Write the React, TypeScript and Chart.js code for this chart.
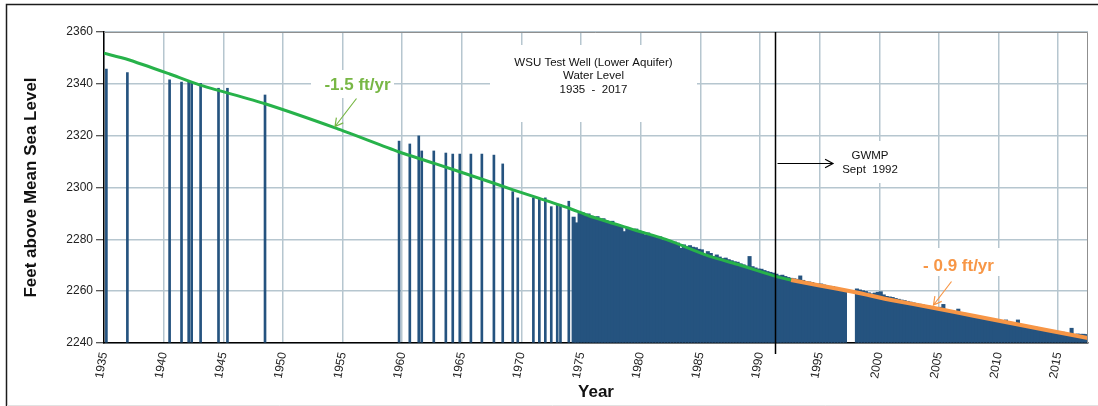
import { useEffect, useRef } from 'react';
import { Chart, registerables } from 'chart.js';

Chart.register(...registerables);

// ---------- data ----------
const sparseYears = [
  1935.2, 1936.96, 1940.5, 1941.5, 1942.1, 1942.35, 1943.1, 1944.6, 1945.35, 1948.5,
  1959.74, 1960.64, 1961.39, 1961.64, 1962.65, 1963.66, 1964.24, 1964.83, 1965.76, 1966.68,
  1967.69, 1968.43, 1969.27, 1969.69, 1971.0, 1971.5, 1972.0, 1972.5, 1973.0, 1973.27, 1973.97,
];
const sparseLevels = [
  2345.7, 2344.3, 2341.5, 2340.7, 2341.2, 2340.4, 2340.2, 2338.3, 2338.3, 2335.7,
  2317.9, 2316.8, 2319.9, 2314.1, 2314.1, 2313.3, 2312.9, 2312.9, 2312.9, 2312.9,
  2312.5, 2309.1, 2298.4, 2296.0, 2296.0, 2295.7, 2296.0, 2292.6, 2293.4, 2293.4, 2294.7,
];

// quarterly readings (Q1..Q4) for the dense record
const denseYears = [
  1974, 1975, 1976, 1977, 1978, 1979, 1980, 1981, 1982, 1983, 1984,
  1985, 1986, 1987, 1988, 1989, 1990, 1991, 1992, 1993, 1994, 1995,
  1996, 1997, 1998, 1999, 2000, 2001, 2002, 2003, 2004, 2005, 2006,
  2007, 2008, 2009, 2010, 2011, 2012, 2013, 2014, 2015, 2016, 2017,
];
const denseLevels: (number | null)[][] = [
  [null, 2288.6, 2286.4, 2290.0],
  [2290.3, 2289.5, 2289.8, 2289.0],
  [2288.5, 2288.8, 2287.6, 2288.0],
  [2287.2, 2286.5, 2287.0, 2285.8],
  [2285.6, 2285.0, 2283.0, 2284.6],
  [2284.2, 2283.5, 2284.0, 2283.3],
  [2283.0, 2281.8, 2282.5, 2281.6],
  [2281.2, 2280.5, 2281.0, 2279.8],
  [2279.9, 2279.4, 2278.7, 2279.0],
  [2278.6, 2276.6, 2277.9, 2277.2],
  [2277.6, 2277.0, 2276.8, 2276.2],
  [2276.0, 2273.7, 2275.3, 2274.6],
  [2273.4, 2274.0, 2273.2, 2272.6],
  [2272.8, 2272.2, 2271.8, 2271.4],
  [2271.2, 2270.6, 2270.2, 2269.7],
  [2273.4, 2269.5, 2269.0, 2268.6],
  [2268.5, 2268.0, 2267.6, 2267.3],
  [2267.0, 2266.6, 2266.0, 2266.2],
  [2265.7, 2265.3, 2265.0, 2264.8],
  [2264.6, 2265.9, 2264.2, 2263.8],
  [2263.6, 2263.4, 2263.0, 2262.8],
  [2262.8, 2262.4, 2262.0, 2261.9],
  [2261.8, 2261.5, 2261.0, 2260.8],
  [2260.4, null, null, null],
  [2260.9, 2260.5, 2260.2, 2259.9],
  [2259.4, 2259.0, 2259.3, 2259.6],
  [2259.8, 2258.6, 2258.0, 2257.8],
  [2257.6, 2257.2, 2256.9, 2256.6],
  [2256.4, 2256.1, 2255.8, 2255.5],
  [2255.3, 2255.0, 2254.8, 2254.5],
  [2254.3, 2254.0, 2253.7, 2253.5],
  [2253.8, 2254.9, 2253.0, 2252.6],
  [2252.4, 2252.1, 2253.1, 2251.8],
  [2251.5, 2251.2, 2250.9, 2250.6],
  [2250.3, 2250.1, 2249.8, 2249.5],
  [2249.4, 2249.1, 2248.8, 2248.6],
  [2248.4, 2248.2, 2248.9, 2247.9],
  [2247.7, 2247.4, 2248.9, 2246.8],
  [2247.0, 2246.8, 2246.5, 2246.3],
  [2246.1, 2245.8, 2245.5, 2245.2],
  [2245.0, 2244.8, 2244.6, 2244.4],
  [2244.4, 2244.2, 2243.6, 2243.4],
  [2245.7, 2243.2, 2243.5, 2243.4],
  [2243.4, 2243.3, null, null],
];

const greenTrendYears = [
  1935, 1937, 1940.5, 1943, 1948.5, 1954.5, 1959.7, 1962.7, 1966.7, 1969.3,
  1971.5, 1974, 1975.7, 1979.5, 1982.4, 1985.8, 1988.3, 1991.4, 1992.6,
];
const greenTrendLevels = [
  2351.8, 2349.4, 2343.8, 2339.6, 2332.3, 2322.8, 2313.8, 2309.3, 2303.2, 2299.1,
  2295.8, 2292.0, 2289.0, 2283.6, 2279.5, 2273.4, 2270.1, 2265.6, 2264.3,
];
const orangeTrendYears = [1992.6, 1995, 1998, 2001, 2004.5, 2008, 2011, 2014, 2017.5];
const orangeTrendLevels = [2264.3, 2262.2, 2259.6, 2256.6, 2253.6, 2250.4, 2247.7, 2245.0, 2241.9];

const xTickYears = [1935, 1940, 1945, 1950, 1955, 1960, 1965, 1970, 1975, 1980, 1985, 1990, 1995, 2000, 2005, 2010, 2015];
const yTickLevels = [2240, 2260, 2280, 2300, 2320, 2340, 2360];
const gwmpYear = 1991.3;

const titleLines = ['WSU Test Well (Lower Aquifer)', 'Water Level', '1935  -  2017'];
const gwmpLines = ['GWMP', 'Sept  1992'];
const greenRateLabel = '-1.5 ft/yr';
const orangeRateLabel = '- 0.9 ft/yr';

// ---------- styles ----------
const FONT = "'Liberation Sans', Arial, sans-serif";
const BAR = '#25537f';
const GREEN = '#27b24a';
const GREEN_TEXT = '#78b745';
const ORANGE = '#f79646';
const GRID = '#b6c6cf';

function arrow(ctx: CanvasRenderingContext2D, x1: number, y1: number, x2: number, y2: number, color: string, head = 8) {
  ctx.save();
  ctx.strokeStyle = color;
  ctx.lineWidth = 1.2;
  ctx.beginPath();
  ctx.moveTo(x1, y1);
  ctx.lineTo(x2, y2);
  const a = Math.atan2(y2 - y1, x2 - x1);
  ctx.moveTo(x2 - head * Math.cos(a - 0.5), y2 - head * Math.sin(a - 0.5));
  ctx.lineTo(x2, y2);
  ctx.lineTo(x2 - head * Math.cos(a + 0.5), y2 - head * Math.sin(a + 0.5));
  ctx.stroke();
  ctx.restore();
}

const decor = {
  id: 'decor',
  beforeDraw(chart: any) {
    const ctx = chart.ctx as CanvasRenderingContext2D;
    ctx.save();
    ctx.fillStyle = '#fff';
    ctx.fillRect(0, 0, chart.width, chart.height);
    ctx.strokeStyle = '#1c1c1c';
    ctx.lineWidth = 1.5;
    ctx.beginPath();
    ctx.moveTo(6.5, 406);
    ctx.lineTo(6.5, 4.5);
    ctx.lineTo(1098, 4.5);
    ctx.stroke();
    ctx.strokeStyle = '#e2e2e2';
    ctx.lineWidth = 1;
    ctx.beginPath();
    ctx.moveTo(7, 405.5);
    ctx.lineTo(1098, 405.5);
    ctx.stroke();
    ctx.restore();
  },
  afterDatasetsDraw(chart: any) {
    const ctx = chart.ctx as CanvasRenderingContext2D;
    const { left, right, top, bottom } = chart.chartArea;
    const xs = chart.scales.x;
    ctx.save();
    // plot area border (top/right)
    ctx.strokeStyle = '#8f8f8f';
    ctx.lineWidth = 1;
    ctx.beginPath();
    ctx.moveTo(left, top + 0.5);
    ctx.lineTo(right - 0.5, top + 0.5);
    ctx.lineTo(right - 0.5, bottom);
    ctx.stroke();

    // GWMP vertical line
    const gx = xs.getPixelForValue(gwmpYear);
    ctx.strokeStyle = '#000';
    ctx.lineWidth = 1.5;
    ctx.beginPath();
    ctx.moveTo(gx, top);
    ctx.lineTo(gx, bottom + 11);
    ctx.stroke();

    // title box
    ctx.fillStyle = '#fff';
    ctx.fillRect(490, 45, 207, 77);
    ctx.fillStyle = '#111';
    ctx.font = `11.5px ${FONT}`;
    ctx.textAlign = 'center';
    ctx.textBaseline = 'middle';
    titleLines.forEach((t, i) => ctx.fillText(t, 593.5, 62.5 + i * 13.7));

    // GWMP box
    ctx.fillStyle = '#fff';
    ctx.fillRect(838, 141, 66, 42);
    ctx.fillStyle = '#111';
    gwmpLines.forEach((t, i) => ctx.fillText(t, 870, 155.5 + i * 14));
    arrow(ctx, gx + 2, 163.5, 833, 163.5, '#000', 9);

    // green rate label
    ctx.fillStyle = '#fff';
    ctx.fillRect(311, 70, 83, 28);
    ctx.fillStyle = GREEN_TEXT;
    ctx.font = `bold 17px ${FONT}`;
    ctx.fillText(greenRateLabel, 357.5, 85);
    arrow(ctx, 356.5, 98.5, 335, 126.5, GREEN_TEXT, 9);

    // orange rate label
    ctx.fillStyle = '#fff';
    ctx.fillRect(913, 248, 90, 28);
    ctx.fillStyle = ORANGE;
    ctx.fillText(orangeRateLabel, 958.5, 266.5);
    arrow(ctx, 951.5, 281.5, 933.5, 305, ORANGE, 9);
    ctx.restore();
  },
};

export default function App() {
  const ref = useRef<HTMLCanvasElement>(null);

  useEffect(() => {
    if (!ref.current) return;
    Chart.defaults.font.family = FONT;

    const sparse = sparseYears.map((x, i) => ({ x, y: sparseLevels[i] }));
    const dense: { x: number; y: number }[] = [];
    denseYears.forEach((yr, r) => {
      denseLevels[r].forEach((v, q) => {
        if (v !== null) dense.push({ x: yr + 0.125 + q * 0.25, y: v });
      });
    });
    const green = greenTrendYears.map((x, i) => ({ x, y: greenTrendLevels[i] }));
    const orange = orangeTrendYears.map((x, i) => ({ x, y: orangeTrendLevels[i] }));

    const chart = new Chart(ref.current, {
      type: 'bar',
      data: {
        datasets: [
          { type: 'line', data: green, borderColor: GREEN, borderWidth: 3, pointRadius: 0, tension: 0.2, order: 0 } as any,
          { type: 'line', data: orange, borderColor: ORANGE, borderWidth: 4, pointRadius: 0, tension: 0.2, order: 0 } as any,
          { type: 'bar', data: sparse, backgroundColor: BAR, barThickness: 2, grouped: false, order: 1, base: 2240 } as any,
          { type: 'bar', data: dense, backgroundColor: BAR, barThickness: 3.4, grouped: false, order: 1, base: 2240 } as any,
        ],
      },
      options: {
        animation: false,
        responsive: false,
        devicePixelRatio: 1,
        layout: { padding: { left: 0, top: 32, right: 10, bottom: 0 } },
        plugins: { legend: { display: false }, tooltip: { enabled: false } },
        scales: {
          x: {
            type: 'linear',
            min: 1935,
            max: 2017.5,
            offset: false,
            afterFit: (s: any) => { s.height = 63; },
            afterBuildTicks: (s: any) => { s.ticks = xTickYears.map((v) => ({ value: v })); },
            ticks: {
              autoSkip: false,
              minRotation: 80,
              maxRotation: 80,
              padding: 8,
              color: '#222',
              font: { size: 12, family: FONT },
              callback: (v: any) => String(v),
            },
            grid: { color: GRID, lineWidth: 1.5, drawTicks: false, offset: false },
            border: { color: '#000', width: 1.5 },
            title: {
              display: true,
              text: 'Year',
              color: '#111',
              font: { size: 17, weight: 'bold', family: FONT },
              padding: { top: 0, bottom: 3 },
            },
          },
          y: {
            min: 2240,
            max: 2360,
            afterFit: (s: any) => { s.width = 104; },
            afterBuildTicks: (s: any) => { s.ticks = yTickLevels.map((v) => ({ value: v })); },
            ticks: {
              padding: 3,
              color: '#222',
              font: { size: 12, family: FONT },
              callback: (v: any) => String(v),
            },
            grid: { color: GRID, lineWidth: 1.5, tickLength: 8, tickColor: '#222', tickWidth: 1 },
            border: { color: '#000', width: 1.5 },
            title: {
              display: true,
              text: 'Feet above Mean Sea Level',
              color: '#111',
              font: { size: 17, weight: 'bold', family: FONT },
              padding: { top: 21, bottom: 0 },
            },
          },
        },
      },
      plugins: [decor],
    });
    return () => chart.destroy();
  }, []);

  return (
    <div style={{ position: 'absolute', left: 0, top: 0, width: 1098, height: 406 }}>
      <canvas ref={ref} width={1098} height={406} />
    </div>
  );
}
